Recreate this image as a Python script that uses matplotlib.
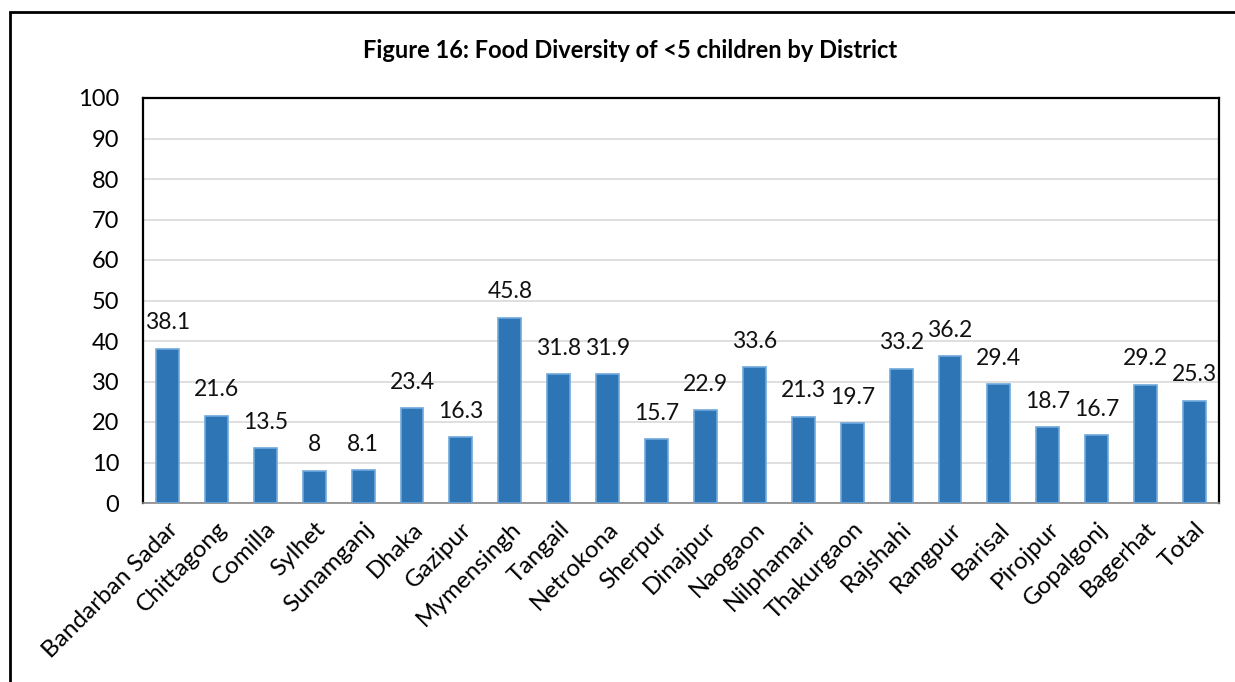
import matplotlib
matplotlib.use("Agg")
import matplotlib.pyplot as plt
from matplotlib.patches import Rectangle
import numpy as np

TITLE = "Figure 16: Food Diversity of <5 children by District"
DISTRICTS = [
    "Bandarban Sadar", "Chittagong", "Comilla", "Sylhet", "Sunamganj", "Dhaka",
    "Gazipur", "Mymensingh", "Tangail", "Netrokona", "Sherpur", "Dinajpur",
    "Naogaon", "Nilphamari", "Thakurgaon", "Rajshahi", "Rangpur", "Barisal",
    "Pirojpur", "Gopalgonj", "Bagerhat", "Total",
]
VALUES = [38.1, 21.6, 13.5, 8, 8.1, 23.4, 16.3, 45.8, 31.8, 31.9, 15.7, 22.9,
          33.6, 21.3, 19.7, 33.2, 36.2, 29.4, 18.7, 16.7, 29.2, 25.3]
YTICKS = list(range(0, 101, 10))

BAR_FILL = "#2E75B6"
BAR_EDGE = "#6FA8DC"

plt.rcParams["font.family"] = ["Lato", "DejaVu Sans"]

W, H = 1235, 682
fig = plt.figure(figsize=(W / 100, H / 100), dpi=100)
ax = fig.add_axes([143 / W, 1 - 503 / H, (1219 - 143) / W, (503 - 98) / H])

x = np.arange(len(DISTRICTS))
ax.bar(x, VALUES, width=0.47, color=BAR_FILL, edgecolor=BAR_EDGE,
       linewidth=1.2, zorder=3)

for xi, v in zip(x, VALUES):
    label = f"{v:g}"
    ax.annotate(label, (xi, v), xytext=(0, 11), textcoords="offset points",
                ha="center", va="bottom", fontsize=16.5, color="#111111")

ax.set_xlim(-0.5, len(DISTRICTS) - 0.5)
ax.set_ylim(0, 100)
ax.set_yticks(YTICKS)
ax.set_yticklabels([str(t) for t in YTICKS], fontsize=17)
ax.set_xticks(x)
ax.set_xticklabels(DISTRICTS, rotation=45, ha="right", va="top",
                   rotation_mode="anchor", fontsize=17.5)
ax.tick_params(axis="y", length=0, pad=17)
ax.tick_params(axis="x", length=0, pad=11)

ax.grid(axis="y", color="#D9D9D9", linewidth=1.2, zorder=0)
for side in ("left", "top", "right"):
    ax.spines[side].set_color("black")
    ax.spines[side].set_linewidth(1.6)
ax.spines["bottom"].set_color("#888888")
ax.spines["bottom"].set_linewidth(1.2)

fig.text(630 / W, 1 - 50 / H, TITLE, ha="center", va="center",
         fontsize=17, fontweight="bold")

# outer chart frame (runs off the right and bottom edges)
fig.patches.append(Rectangle((10 / W, -0.1), 1.2, 1 - 12 / H + 0.1,
                             transform=fig.transFigure, fill=False,
                             edgecolor="black", linewidth=2))

fig.savefig("out.png", dpi=100)
